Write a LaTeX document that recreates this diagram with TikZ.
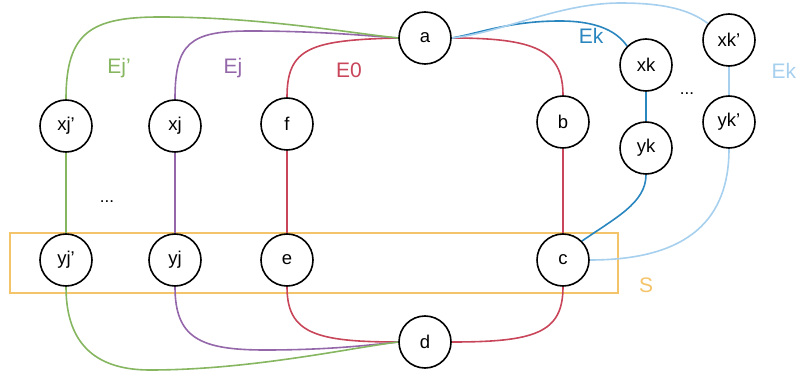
\documentclass[tikz,border=0pt]{standalone}
\usepackage{fontspec}
\setmainfont{Liberation Sans}
\usetikzlibrary{backgrounds}
\definecolor{cred}{HTML}{C8455A}
\definecolor{cgreen}{HTML}{86B660}
\definecolor{cpurple}{HTML}{9466AA}
\definecolor{cdblue}{HTML}{2A86BE}
\definecolor{clblue}{HTML}{A6D0EE}
\definecolor{corange}{HTML}{F4C46A}
\begin{document}
\begin{tikzpicture}[x=1pt,y=1pt,
  vtx/.style={circle,draw=black,line width=1.6pt,fill=white,minimum size=52pt,inner sep=0pt,font=\fontsize{18.5}{20}\selectfont},
  lbl/.style={font=\fontsize{21}{24}\selectfont},
  edge/.style={line width=1.6pt}]
\useasboundingbox (0,0) rectangle (796,378);
% nodes
\node[vtx] (a) at (425,340) {a};
\node[vtx] (xjp) at (66,252) {xj'};
\node[vtx] (xj) at (175,252) {xj};
\node[vtx] (f) at (287,254) {f};
\node[vtx] (b) at (563,256) {b};
\node[vtx] (xk) at (646,313) {xk};
\node[vtx] (yk) at (646,230) {yk};
\node[vtx] (xkp) at (729,338) {xk'};
\node[vtx] (ykp) at (729,256) {yk'};
\node[vtx] (yjp) at (66,118) {yj'};
\node[vtx] (yj) at (175,118) {yj};
\node[vtx] (e) at (287,118) {e};
\node[vtx] (c) at (563,118) {c};
\node[vtx] (d) at (425,36) {d};
% labels
\node[lbl,text=corange] (Slab) at (646,93) {S};
\node[lbl,text=cgreen] (lEjp) at (119,310) {Ej'};
\node[lbl,text=cpurple] (lEj) at (233,310) {Ej};
\node[lbl,text=cred] (lE0) at (349,308) {E0};
\node[lbl,text=cdblue] (lEk) at (591,342) {Ek};
\node[lbl,text=clblue,anchor=west] (lEkp) at (768,307) {Ek};
\node[font=\fontsize{17}{18}\selectfont] (dotsL) at (107,176) {...};
\node[font=\fontsize{17}{18}\selectfont] (dotsR) at (687,284) {...};
\begin{scope}[on background layer]
% S rectangle
\node[draw=corange,line width=1.6pt,minimum width=608pt,minimum height=60pt,inner sep=0pt] (S) at (314,115) {};
% red E0
\draw[edge,cred] (f.north) .. controls (287,330) and (310,338) .. (a.west);
\draw[edge,cred] (f) -- (e);
\draw[edge,cred] (e.south) .. controls (287,45) and (315,36) .. (d.west);
\draw[edge,cred] (a.east) .. controls (535,340) and (563,328) .. (b.north);
\draw[edge,cred] (b) -- (c);
\draw[edge,cred] (c.south) .. controls (563,45) and (535,36) .. (d.east);
% purple Ej
\draw[edge,cpurple] (xj.north) .. controls (175,335) and (190,347) .. (250,347) .. controls (320,347) and (370,342) .. (a.west);
\draw[edge,cpurple] (xj) -- (yj);
\draw[edge,cpurple] (yj.south) .. controls (175,40) and (200,28) .. (265,28) .. controls (330,28) and (370,33) .. (d.west);
% green Ej'
\draw[edge,cgreen] (xjp.north) .. controls (66,345) and (90,361) .. (160,361) .. controls (260,361) and (350,345) .. (a.west);
\draw[edge,cgreen] (xjp) -- (yjp);
\draw[edge,cgreen] (yjp.south) .. controls (66,30) and (100,8) .. (150,8) .. controls (250,8) and (350,30) .. (d.west);
% dark blue Ek
\draw[edge,cdblue] (a.east) .. controls (480,345) and (510,357) .. (560,357) .. controls (600,357) and (618,345) .. (xk.north west);
\draw[edge,cdblue] (xk) -- (yk);
\draw[edge,cdblue] (yk.south) .. controls (646,175) and (615,160) .. (c.north east);
% light blue Ek
\draw[edge,clblue] (a.east) .. controls (500,345) and (560,375) .. (620,375) .. controls (665,375) and (690,368) .. (xkp.142);
\draw[edge,clblue] (xkp) -- (ykp);
\draw[edge,clblue] (ykp.south) .. controls (729,160) and (690,118) .. (c.east);
\end{scope}
\end{tikzpicture}
\end{document}
